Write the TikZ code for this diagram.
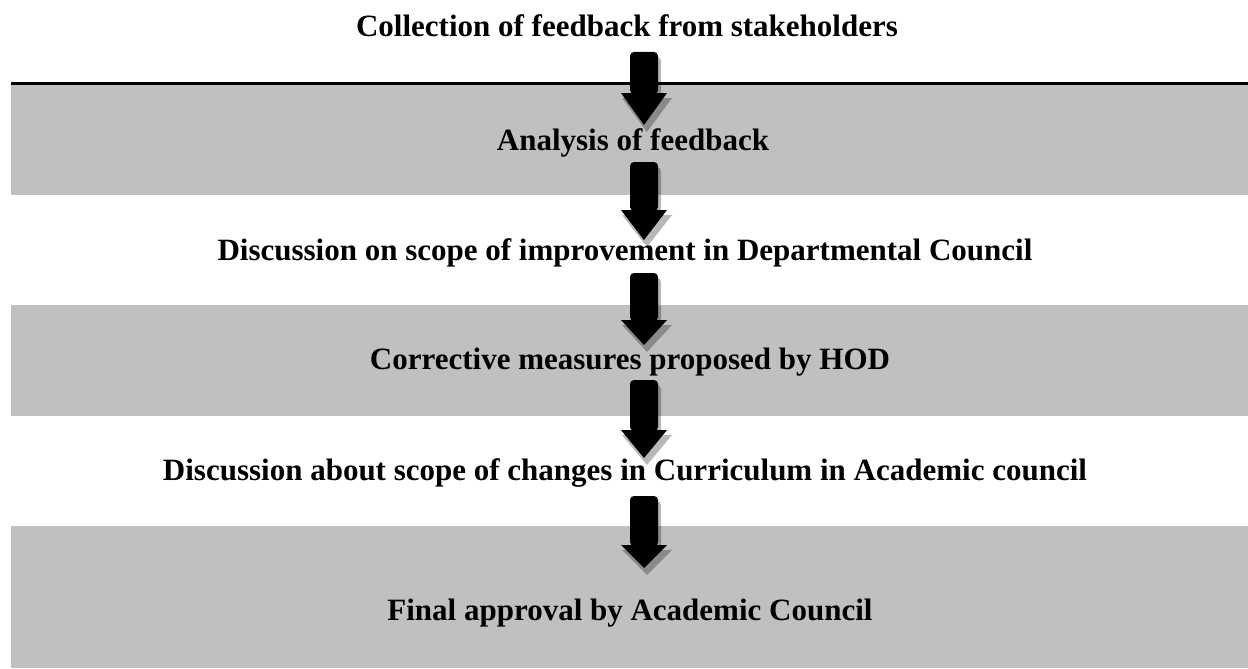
\documentclass[tikz,border=0pt]{standalone}
\usepackage{fontspec}
\setmainfont{Liberation Serif}
\definecolor{bandgray}{HTML}{C0C0C0}
\tikzset{
  band/.style={fill=bandgray, draw=none},
  steptext/.style={anchor=base, inner sep=0pt, font=\fontsize{31}{36}\selectfont\bfseries},
  arrowbody/.style={fill=black},
  arrowshadow/.style={fill=black, opacity=0.28}
}
% #1 top, #2 head start, #3 tip  (centre x = 644)
\newcommand{\blockarrow}[3]{%
  \begin{scope}[shift={(3,5)}]
    \fill[arrowshadow, rounded corners=4pt] (630,#1) rectangle (658,#2+1);
    \fill[arrowshadow] (619,#2) -- (669,#2) -- (644,#3+2) -- cycle;
  \end{scope}
  \fill[arrowbody, rounded corners=4pt] (630,#1) rectangle (658,#2+1);
  \fill[arrowbody] (621,#2) -- (667,#2) -- (644,#3) -- cycle;
}
\begin{document}
\begin{tikzpicture}[x=1pt,y=-1pt]
\useasboundingbox (0,0) rectangle (1248,669);
\fill[white] (0,0) rectangle (1248,669);
% bands
\fill[band] (11,85) rectangle (1248,195);
\fill[black] (11,82) rectangle (1248,85.5);
\fill[band] (11,305) rectangle (1248,416);
\fill[band] (11,526) rectangle (1248,668);
% arrows
\blockarrow{52}{93}{125}
\blockarrow{162}{210}{240}
\blockarrow{273}{320}{345}
\blockarrow{380}{430}{458}
\blockarrow{496}{545}{568}
% texts
\node[steptext] (t1) at (627,37) {Collection of feedback from stakeholders};
\node[steptext] (t2) at (633,150) {Analysis of feedback};
\node[steptext] (t3) at (625,260) {Discussion on scope of improvement in Departmental Council};
\node[steptext] (t4) at (630,369) {Corrective measures proposed by HOD};
\node[steptext] (t5) at (625,480) {Discussion about scope of changes in Curriculum in Academic council};
\node[steptext] (t6) at (630,620) {Final approval by Academic Council};
\end{tikzpicture}
\end{document}
